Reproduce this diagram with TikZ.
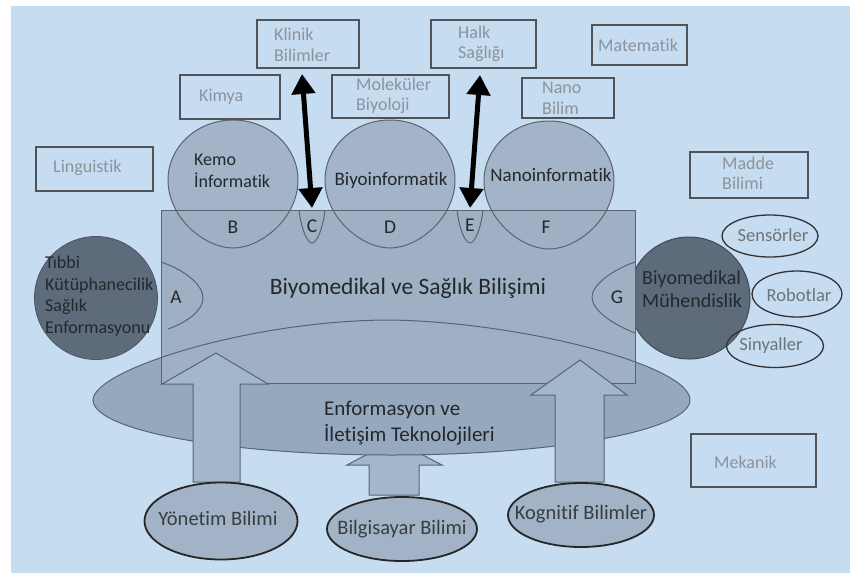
\documentclass[tikz,border=0pt]{standalone}
\usepackage{fontspec}
\setmainfont{Carlito}[Ligatures={NoCommon}]
\usetikzlibrary{arrows.meta,shapes.geometric}
\definecolor{bgc}{HTML}{C6DCF0}
\definecolor{rectc}{HTML}{9FB0C4}
\definecolor{dropc}{HTML}{A3B4C8}
\definecolor{darkc}{HTML}{5D6B7B}
\definecolor{ictc}{HTML}{95A8BD}
\definecolor{arrc}{HTML}{A4B6CB}
\definecolor{botc}{HTML}{A2B3C7}
\definecolor{linec}{HTML}{5A6470}
\definecolor{boxline}{HTML}{4F5358}
\definecolor{boxtext}{HTML}{8B939B}
\definecolor{darktext}{HTML}{23282D}
\definecolor{smalltext}{HTML}{6C737A}
\begin{document}
\begin{tikzpicture}[x=1pt,y=-1pt,
  topbox/.style={draw=boxline, line width=1.8pt, inner sep=0pt},
  boxtxt/.style={text=boxtext, font=\fontsize{18}{20.5}\selectfont, align=left, anchor=west, inner sep=0pt},
  outl/.style={draw=linec, line width=1pt},
  letter/.style={text=darktext, font=\fontsize{19.5}{22}\selectfont, inner sep=0pt},
  darktxt/.style={text=darktext, inner sep=0pt},
  smallell/.style={ellipse, draw=black!80, line width=1.3pt, inner sep=0pt},
  smalltxt/.style={inner sep=0pt, text=smalltext, font=\fontsize{18.5}{20}\selectfont},
  botell/.style={ellipse, draw=black!85, line width=1.8pt, fill=botc, inner sep=0pt},
  bottxt/.style={inner sep=0pt, text=darktext!90, font=\fontsize{20.5}{22}\selectfont},
  blockarr/.style={fill=arrc, draw=linec, line width=1pt},
  bigarrow/.style={line width=5pt, {Triangle[length=20pt,width=23pt]}-{Triangle[length=20pt,width=23pt]}}
]
\useasboundingbox (0,0) rectangle (850,573);
\fill[white] (0,0) rectangle (850,573);
\fill[bgc] (11,6) rectangle (850,573);

% top boxes
\node[topbox, minimum width=102pt, minimum height=48pt] (klinik) at (308,44) {};
\node[boxtxt] (klinikt) at (274,45) {Klinik\\Bilimler};
\node[topbox, minimum width=100pt, minimum height=44pt] (kimya) at (230,97) {};
\node[boxtxt] (kimyat) at (199,97) {Kimya};
\node[topbox, minimum width=117pt, minimum height=44pt] (ling) at (94.5,169) {};
\node[boxtxt] (lingt) at (53,168) {Linguistik};
\node[topbox, minimum width=117pt, minimum height=43pt] (molek) at (390.5,96.5) {};
\node[boxtxt] (molekt) at (356,96) {Moleküler\\Biyoloji};
\node[topbox, minimum width=105pt, minimum height=48pt] (halk) at (483.5,44) {};
\node[boxtxt] (halkt) at (458,44) {Halk\\Sağlığı};
\node[topbox, minimum width=95pt, minimum height=40pt] (matem) at (639.5,45) {};
\node[boxtxt] (matemt) at (598,45) {Matematik};
\node[topbox, minimum width=92pt, minimum height=40pt] (nano) at (568,98) {};
\node[boxtxt] (nanot) at (542,98) {Nano\\Bilim};
\node[topbox, minimum width=118pt, minimum height=46pt] (madde) at (749,175) {};
\node[boxtxt] (maddet) at (722,173) {Madde\\Bilimi};
\node[topbox, minimum width=125pt, minimum height=53pt] (mekanik) at (753.5,460.5) {};
\node[boxtxt] (mekanikt) at (714,462) {Mekanik};

% small middle block arrow (under ICT ellipse)
\path[blockarr] (369,495) -- (369,465) -- (347,465) -- (394,440) -- (442,465) -- (419,465) -- (419,495) -- cycle;

% ICT ellipse
\path[fill=ictc, outl] (93,400) .. controls (93,370) and (250,320) .. (391,320)
   .. controls (520,322) and (690,365) .. (690,400)
   arc[start angle=0, end angle=180, x radius=298.5, y radius=55] -- cycle;

% dark circles
\node[circle, fill=darkc, draw=darkc!80!black, line width=0.8pt, minimum size=123pt] (tkc) at (96,298) {};
\node[circle, fill=darkc, draw=darkc!70!black, line width=1pt, minimum size=122pt] (bmc) at (689,298) {};

% drops B D F
\foreach \cx/\ty in {233/120, 390/120, 549/121}{
  \path[fill=dropc, outl] (\cx-65,\ty+60) arc[start angle=180, end angle=360, x radius=65, y radius=60]
     .. controls (\cx+65,\ty+98) and (\cx+28,\ty+128) .. (\cx,\ty+128)
     .. controls (\cx-28,\ty+128) and (\cx-65,\ty+98) .. cycle;
}

% central rectangle
\path[fill=rectc, outl] (161,210) rectangle (635,383);

% outlines inside rectangle
\begin{scope}
\clip (161,210) rectangle (635,383);
\foreach \cx/\ty in {233/120, 390/120, 549/121}{
  \path[outl] (\cx-65,\ty+60) arc[start angle=180, end angle=360, x radius=65, y radius=60]
     .. controls (\cx+65,\ty+98) and (\cx+28,\ty+128) .. (\cx,\ty+128)
     .. controls (\cx-28,\ty+128) and (\cx-65,\ty+98) .. cycle;
}
\end{scope}
\foreach \cx in {312,470}{
  \path[outl] (\cx-13,210) .. controls (\cx-11,228) and (\cx-5,243) .. (\cx,243)
     .. controls (\cx+5,243) and (\cx+11,228) .. (\cx+13,210);
}
\path[outl] (161,262) .. controls (185,270) and (203,285) .. (203,298)
   .. controls (203,310) and (188,322) .. (168,329);
\path[outl] (635,262) .. controls (612,270) and (592,285) .. (592,297)
   .. controls (592,310) and (612,324) .. (635,333);

% block arrows
\path[blockarr] (193,482) -- (193,384) -- (162,384) -- (216,353) -- (268,384) -- (240,384) -- (240,482) -- cycle;
\path[blockarr] (555,482) -- (555,395) -- (531,395) -- (580,360) -- (627,395) -- (604,395) -- (604,482) -- cycle;

% ICT top curve over arrows inside rect
\begin{scope}
\clip (161,210) rectangle (635,383);
\path[outl] (93,400) .. controls (93,370) and (250,320) .. (391,320)
   .. controls (520,322) and (690,365) .. (690,400);
\end{scope}

% texts
\node[darktxt, anchor=west, align=left, font=\fontsize{18}{21.5}\selectfont] (tkt) at (45,296) {Tıbbi\\Kütüphanecilik\\Sağlık\\Enformasyonu};
\node[darktxt, anchor=west, align=left, font=\fontsize{20}{23}\selectfont] (bmt) at (642,289) {Biyomedikal\\Mühendislik};
\node[darktxt, anchor=west, align=left, font=\fontsize{18}{22}\selectfont] (kemo) at (194,171) {Kemo\\İnformatik};
\node[darktxt, font=\fontsize{19}{20}\selectfont] (biyo) at (391,180) {Biyoinformatik};
\node[darktxt, font=\fontsize{19}{20}\selectfont] (nanoi) at (551,175) {Nanoinformatik};
\node[darktxt, font=\fontsize{23.5}{25}\selectfont] (center) at (408,288) {Biyomedikal ve Sağlık Bilişimi};
\node[darktxt, anchor=west, align=left, font=\fontsize{21}{25.5}\selectfont] (ict) at (324,423) {Enformasyon ve\\İletişim Teknolojileri};

\node[letter] (la) at (176,297) {A};
\node[letter] (lb) at (233,227) {B};
\node[letter] (lc) at (312,226) {C};
\node[letter] (ld) at (390,227) {D};
\node[letter] (le) at (470,225) {E};
\node[letter] (lf) at (546,227) {F};
\node[letter] (lg) at (617,297) {G};

% right small ellipses
\node[smallell, minimum width=96pt, minimum height=42pt] (sens) at (770,236) {};
\node[smalltxt] (senst) at (773,235) {Sensörler};
\node[smallell, minimum width=90pt, minimum height=46pt] (robot) at (797,294) {};
\node[smalltxt] (robott) at (799,295) {Robotlar};
\node[smallell, minimum width=97pt, minimum height=43pt] (sinyal) at (775,346) {};
\node[smalltxt] (sinyalt) at (771,346) {Sinyaller};

% bottom ellipses
\node[botell, minimum width=153pt, minimum height=77pt] (yonetim) at (221,521) {};
\node[bottxt] (yonetimt) at (218,518) {Yönetim Bilimi};
\node[botell, minimum width=150pt, minimum height=64pt] (bilgi) at (402,529) {};
\node[bottxt] (bilgit) at (402,529) {Bilgisayar Bilimi};
\node[botell, minimum width=146pt, minimum height=64pt] (kogn) at (581,515) {};
\node[bottxt] (kognt) at (581,514) {Kognitif Bilimler};

% thick black double arrows
\coordinate (k1) at (302,74);
\coordinate (c1) at (312,208);
\coordinate (h1) at (480,75);
\coordinate (e1) at (470,208);
\draw[bigarrow] (k1) -- (c1);
\draw[bigarrow] (h1) -- (e1);
\end{tikzpicture}
\end{document}
